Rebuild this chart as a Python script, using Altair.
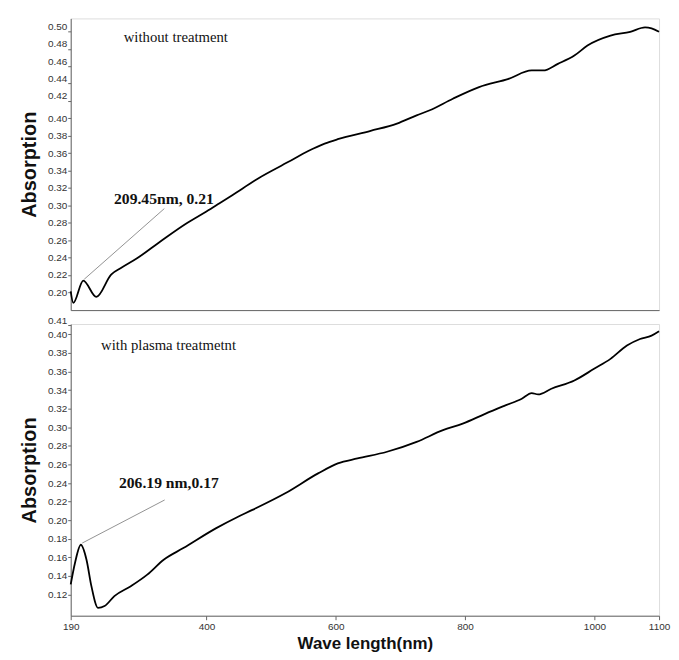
import altair as alt
import pandas as pd

# ---- data ----
top_nm = [190, 194, 209.4, 229.6, 252.5, 267.7, 293.2, 328.7, 369.4, 399.9, 420.2,
          440.5, 481.2, 526.9, 557.4, 582.8, 603, 653.9, 694.6, 725, 745.4, 781,
          821.6, 867.3, 902.9, 920.7, 943.5, 969, 989.3, 1024.9, 1055.4, 1078.3, 1088.4, 1100]
top_abs = [0.201, 0.1877, 0.2134, 0.1946, 0.2203, 0.2278, 0.2393, 0.2584, 0.2794, 0.2928, 0.3023,
           0.3119, 0.3315, 0.350, 0.3625, 0.371, 0.376, 0.3856, 0.394, 0.4035, 0.4093, 0.4226,
           0.436, 0.4455, 0.4551, 0.4551, 0.4627, 0.4723, 0.4838, 0.4952, 0.4996, 0.5047, 0.5036, 0.4996]

bot_nm = [190, 196.6, 205.7, 214.4, 222, 232.2, 242.3, 257.5, 283, 308.4, 333.8, 364.2,
          415.1, 448.1, 471, 521.8, 572.6, 603.1, 633.6, 679.3, 725, 765.8, 796.3, 831.8, 862.3,
          887.7, 903, 913, 933.4, 969, 999.5, 1024.9, 1050.3, 1070.6, 1088.4, 1100]
bot_abs = [0.131, 0.154, 0.1736, 0.1575, 0.129, 0.1057, 0.1076, 0.1183, 0.129, 0.1414, 0.1575, 0.170,
           0.1915, 0.2035, 0.2111, 0.229, 0.2504, 0.2612, 0.2665, 0.2737, 0.2844, 0.2969, 0.304, 0.3148, 0.3236,
           0.3308, 0.3369, 0.3354, 0.3415, 0.3504, 0.363, 0.3737, 0.388, 0.3951, 0.3987, 0.4034]

x_ticks = [190, 400, 600, 800, 1000, 1100]
top_yticks = [round(0.20 + 0.02 * i, 2) for i in range(16)]
bot_yticks = [round(0.12 + 0.02 * i, 2) for i in range(15)] + [0.41]

top_label = {"text": "without treatment", "nm": 272, "val": 0.492}
top_peak = {"text": "209.45nm, 0.21", "nm": 257, "val": 0.3077,
            "x1": 210.9, "y1": 0.2149, "x2": 334.8, "y2": 0.2962}
bot_label = {"text": "with plasma treatmetnt", "nm": 237, "val": 0.3876}
bot_peak = {"text": "206.19 nm,0.17", "nm": 264.7, "val": 0.2397,
            "x1": 207.8, "y1": 0.1754, "x2": 335.3, "y2": 0.2218}

W, H = 591, 293
AXIS_COLOR = "#666"
LABEL_COLOR = "#333"


def panel(nm, ab, ydomain, yticks, lab, peak, bottom):
    df = pd.DataFrame({"nm": nm, "abs": ab})
    xaxis = alt.Axis(values=x_ticks, format="d", labels=bottom, ticks=bottom, tickSize=4,
                     tickCount=20,
                     title="Wave length(nm)" if bottom else None,
                     titleFont="Liberation Sans", titleFontSize=17, titleFontWeight="bold",
                     titleColor="#111", titlePadding=4,
                     labelFont="Liberation Sans", labelFontSize=10, labelColor=LABEL_COLOR,
                     labelPadding=2, domainColor=AXIS_COLOR, tickColor=AXIS_COLOR,
                     grid=False, labelFlush=False, labelOverlap=False)
    yaxis = alt.Axis(values=yticks, format=".2f", tickSize=3, tickCount=40, title="Absorption",
                     titleFont="Liberation Sans", titleFontSize=20, titleFontWeight="bold",
                     titleColor="#111", titlePadding=8,
                     labelFont="Liberation Sans", labelFontSize=10, labelColor=LABEL_COLOR,
                     labelPadding=1, domainColor=AXIS_COLOR, tickColor=AXIS_COLOR, grid=False,
                     labelOverlap=False,
                     labelBaseline={"condition": {"test": "datum.value > 0.405", "value": "bottom"},
                                    "value": "middle"})
    xs = alt.Scale(domain=[190, 1100], nice=False, zero=False)
    ys = alt.Scale(domain=ydomain, nice=False, zero=False)

    line = alt.Chart(df).mark_line(color="black", strokeWidth=1.8, interpolate="monotone").encode(
        x=alt.X("nm:Q", scale=xs, axis=xaxis),
        y=alt.Y("abs:Q", scale=ys, axis=yaxis),
    )
    lead = alt.Chart(pd.DataFrame([peak])).mark_rule(color="#777", strokeWidth=0.8).encode(
        x="x1:Q", x2="x2:Q", y="y1:Q", y2="y2:Q")
    t1 = alt.Chart(pd.DataFrame([lab])).mark_text(
        align="left", baseline="middle", font="Liberation Serif", fontSize=14.8, color="#111").encode(
        x="nm:Q", y="val:Q", text="text:N")
    t2 = alt.Chart(pd.DataFrame([peak])).mark_text(
        align="left", baseline="middle", font="Liberation Serif", fontSize=15.7,
        fontWeight="bold", color="#111").encode(
        x="nm:Q", y="val:Q", text="text:N")
    return alt.layer(line, lead, t1, t2).properties(width=W, height=H)


top = panel(top_nm, top_abs, [0.1794, 0.515], top_yticks, top_label, top_peak, False)
bot = panel(bot_nm, bot_abs, [0.0972, 0.4112], bot_yticks, bot_label, bot_peak, True)

chart = alt.vconcat(top, bot, spacing=3).properties(
    padding={"left": 11, "top": 8, "right": 0, "bottom": 0}
).configure_view(stroke=None).configure(background="white")

chart.save("out.html", embed_options={"renderer": "svg", "actions": False})
